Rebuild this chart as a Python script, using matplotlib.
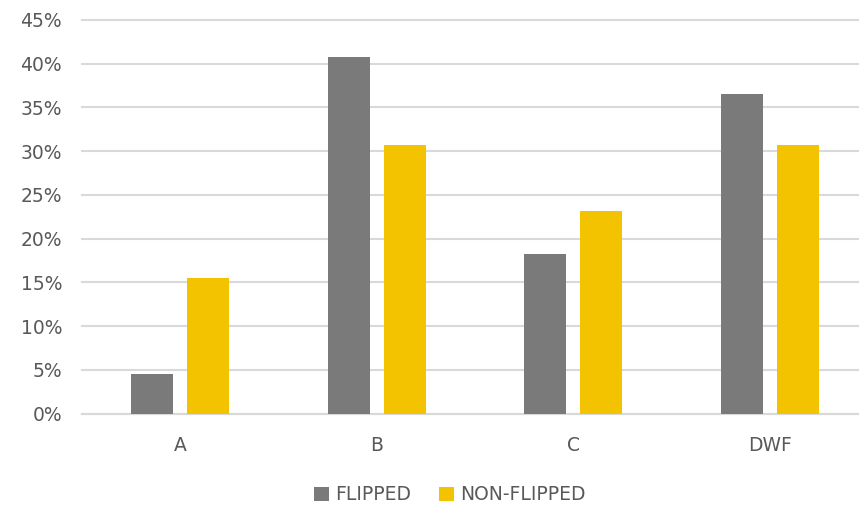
import numpy as np
import matplotlib
matplotlib.use("Agg")
import matplotlib.pyplot as plt
from matplotlib.ticker import PercentFormatter

# Данные с графика
categories = ["A", "B", "C", "DWF"]
flipped = [4.5, 40.8, 18.25, 36.5]
non_flipped = [15.5, 30.7, 23.1, 30.7]
series_names = ["FLIPPED", "NON-FLIPPED"]

plt.rcParams['font.family'] = ['DejaVu Sans']
text_color = '#595959'

fig = plt.figure(figsize=(8.6, 5.07), dpi=100)
ax = fig.add_axes([0.0948, 0.1844, 0.9029, 0.7762])

x = np.arange(len(categories))
w = 0.214
ax.bar(x - 0.142, flipped, w, color='#7a7a7a', label=series_names[0], zorder=3)
ax.bar(x + 0.142, non_flipped, w, color='#f3c300', label=series_names[1], zorder=3)

ax.set_ylim(0, 45)
ax.set_xlim(-0.5, 3.447)
ax.set_yticks(np.arange(0, 46, 5))
ax.yaxis.set_major_formatter(PercentFormatter(decimals=0))
ax.set_xticks(x)
ax.set_xticklabels(categories)

ax.grid(axis='y', color='#d9d9d9', linewidth=1.5, zorder=0)
for gl in ax.get_ygridlines():
    gl.set_clip_on(False)
for s in ['top', 'right', 'left']:
    ax.spines[s].set_visible(False)
ax.spines['bottom'].set_color('#d9d9d9')
ax.spines['bottom'].set_linewidth(1.5)
ax.tick_params(axis='both', length=0, labelsize=13.5, colors=text_color)
ax.tick_params(axis='x', pad=16)
ax.tick_params(axis='y', pad=14)

leg = fig.legend(loc='center', bbox_to_anchor=(0.523, 0.024), ncol=2, frameon=False,
                 fontsize=13.5, handlelength=0.8, handleheight=0.8, handletextpad=0.3,
                 columnspacing=1.5)
for t in leg.get_texts():
    t.set_color(text_color)

fig.savefig('out.png', dpi=100)
